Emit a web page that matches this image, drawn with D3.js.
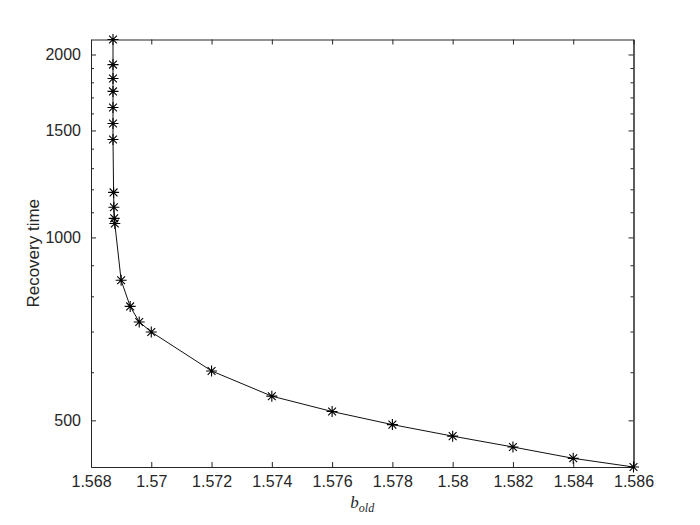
<!DOCTYPE html>
<meta charset="utf-8">
<script src="https://d3js.org/d3.v7.min.js"></script>
<style>
  body { margin: 0; background: #fff; }
  .axis text { font-family: 'Liberation Sans', Arial, sans-serif; font-size: 16px; fill: #262626; }
  .axis path, .axis line { stroke: #262626; }
</style>
<body>
<div id="my_dataviz"></div>
<script>

// data
var bOld = [1.56873, 1.56873, 1.56873, 1.56873, 1.56873, 1.56873, 1.56873,
            1.56875, 1.56876, 1.56877, 1.56879,
            1.569, 1.5693, 1.5696, 1.570,
            1.572, 1.574, 1.576, 1.578, 1.580, 1.582, 1.584, 1.586];
var recovery = [2117, 1925, 1826, 1739, 1636, 1540, 1449,
                1186, 1121, 1075, 1054,
                850, 770, 726, 699,
                603, 548, 517, 492, 471, 452, 433, 419];

var xTicks = [1.568, 1.570, 1.572, 1.574, 1.576, 1.578, 1.580, 1.582, 1.584, 1.586];
var yTicks = [500, 1000, 1500, 2000];
var yMinor = [600, 700, 800, 900, 1100, 1200, 1300, 1400, 1600, 1700, 1800, 1900];

var data = bOld.map(function(b, i) { return {b: b, r: recovery[i]}; });

// MATLAB-style default axes box
var margin = {top: 39.5, right: 66.5, bottom: 58, left: 91},
    width = 700 - margin.left - margin.right,
    height = 525 - margin.top - margin.bottom;

var svg = d3.select("#my_dataviz")
  .append("svg")
    .attr("width", 700)
    .attr("height", 525)
  .append("g")
    .attr("transform", "translate(" + margin.left + "," + margin.top + ")");

var x = d3.scaleLinear()
  .domain([1.568, 1.586])
  .range([0, width]);

var y = d3.scaleLog()
  .domain(d3.extent(recovery))
  .range([height, 0]);

var fmt = function(d) { return +d.toFixed(3) + ""; };

// bottom / top axes
svg.append("g")
  .attr("class", "axis")
  .attr("transform", "translate(0," + height + ")")
  .call(d3.axisBottom(x).tickValues(xTicks).tickFormat(fmt).tickSizeInner(-5).tickSizeOuter(0).tickPadding(9));
svg.append("g")
  .attr("class", "axis")
  .call(d3.axisTop(x).tickValues(xTicks).tickFormat("").tickSizeInner(-5).tickSizeOuter(0));

// left / right axes, major and minor ticks
svg.append("g")
  .attr("class", "axis")
  .call(d3.axisLeft(y).tickValues(yTicks).tickFormat(d3.format("d")).tickSizeInner(-5).tickSizeOuter(0).tickPadding(10));
svg.append("g")
  .attr("class", "axis")
  .call(d3.axisLeft(y).tickValues(yMinor).tickFormat("").tickSizeInner(-3).tickSizeOuter(0));
svg.append("g")
  .attr("class", "axis")
  .attr("transform", "translate(" + width + ",0)")
  .call(d3.axisRight(y).tickValues(yTicks).tickFormat("").tickSizeInner(-5).tickSizeOuter(0));
svg.append("g")
  .attr("class", "axis")
  .attr("transform", "translate(" + width + ",0)")
  .call(d3.axisRight(y).tickValues(yMinor).tickFormat("").tickSizeInner(-3).tickSizeOuter(0));

svg.selectAll(".axis path").attr("stroke-width", 1);

// the curve
svg.append("path")
  .datum(data)
  .attr("fill", "none")
  .attr("stroke", "#111")
  .attr("stroke-width", 1)
  .attr("d", d3.line()
    .x(function(d) { return x(d.b); })
    .y(function(d) { return y(d.r); }));

// asterisk markers
var star = "M-5.5,0H5.5M0,-5.5V5.5M-3.9,-3.9L3.9,3.9M-3.9,3.9L3.9,-3.9";
svg.selectAll(".mark")
  .data(data)
  .enter()
  .append("path")
    .attr("class", "mark")
    .attr("transform", function(d) { return "translate(" + x(d.b) + "," + y(d.r) + ")"; })
    .attr("d", star)
    .attr("fill", "none")
    .attr("stroke", "#000")
    .attr("stroke-width", 1.1);

// Y axis label
svg.append("text")
  .attr("text-anchor", "middle")
  .attr("transform", "rotate(-90)")
  .attr("x", -height / 2)
  .attr("y", -margin.left + 39)
  .style("font-family", "'Liberation Sans', Arial, sans-serif")
  .style("font-size", "17px")
  .style("fill", "#262626")
  .text("Recovery time");

// X axis label (b_old)
var xl = svg.append("text")
  .attr("text-anchor", "middle")
  .attr("x", width / 2)
  .attr("y", height + 41)
  .style("font-family", "'Liberation Serif', 'DejaVu Serif', serif")
  .style("font-style", "italic")
  .style("fill", "#262626");
xl.append("tspan").style("font-size", "17px").text("b");
xl.append("tspan").style("font-size", "12px").attr("dy", 4).text("old");

</script>
</body>
